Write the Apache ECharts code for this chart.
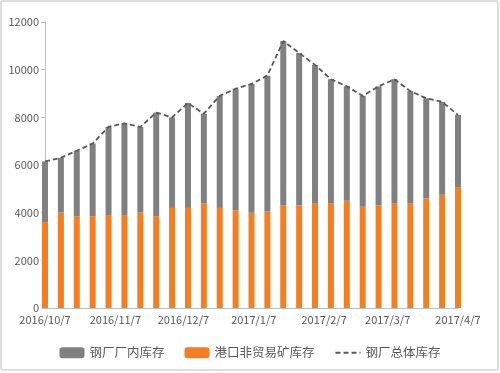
<!DOCTYPE html>
<html>
<head>
<meta charset="utf-8">
<script src="https://cdn.jsdelivr.net/npm/echarts@6/dist/echarts.min.js"></script>
<style>
html,body{margin:0;padding:0;background:#fff;}
#c{width:500px;height:373px;}
</style>
</head>
<body>
<div id="c"></div>
<script>
// Weekly dates
var dates = ['2016-10-07','2016-10-14','2016-10-21','2016-10-28','2016-11-04','2016-11-11','2016-11-18','2016-11-25','2016-12-02','2016-12-09','2016-12-16','2016-12-23','2016-12-30','2017-01-06','2017-01-13','2017-01-20','2017-01-27','2017-02-03','2017-02-10','2017-02-17','2017-02-24','2017-03-03','2017-03-10','2017-03-17','2017-03-24','2017-03-31','2017-04-07'];
// 钢厂厂内库存 (gray segment)
var millStock = [2550,2300,2750,3050,3700,3850,3600,4350,3800,4400,3750,4700,5100,5400,5700,6900,6400,5800,5200,4800,4650,5000,5200,4700,4200,3900,3050];
// 港口非贸易矿库存 (orange segment)
var portStock = [3600,4000,3850,3850,3900,3900,4000,3850,4200,4200,4400,4200,4100,4000,4050,4300,4300,4400,4400,4500,4250,4300,4400,4400,4600,4750,5050];
// 钢厂总体库存 (dashed line)
var totalStock = [6150,6300,6600,6900,7600,7750,7600,8200,8000,8600,8150,8900,9200,9400,9750,11200,10700,10200,9600,9300,8900,9300,9600,9100,8800,8650,8100];
// x tick labels
var xTickDates = ['2016-10-07','2016-11-07','2016-12-07','2017-01-07','2017-02-07','2017-03-07','2017-04-07'];
var seriesNames = ['钢厂厂内库存','港口非贸易矿库存','钢厂总体库存'];

function ts(s){var p=s.split('-');return Date.UTC(+p[0],+p[1]-1,+p[2]);}
var DAY = 86400000;
var t0 = ts(dates[0]);
function dayOf(s){return Math.round((ts(s)-t0)/DAY);}
var tickDays = xTickDates.map(dayOf);
var lastDay = dayOf(dates[dates.length-1]);
function labelOf(day){
  var d=new Date(t0+day*DAY);
  return d.getUTCFullYear()+'/'+(d.getUTCMonth()+1)+'/'+d.getUTCDate();
}

var chart = echarts.init(document.getElementById('c'), null, {renderer:'canvas'});
var font = '"Noto Sans CJK SC","Microsoft YaHei",sans-serif';
chart.setOption({
  animation:false,
  textStyle:{fontFamily:font},
  graphic:[{type:'rect',shape:{x:1,y:1,width:497,height:369,r:2},style:{fill:'none',stroke:'#d4d4d4',lineWidth:1.5},silent:true,z:-10}],
  grid:{left:45,right:42,top:22,bottom:65},
  legend:{
    bottom:9,left:'center',itemWidth:25,itemHeight:11,itemGap:20,
    data:[{name:seriesNames[0]},{name:seriesNames[1]},{name:seriesNames[2],itemStyle:{opacity:0}}],
    textStyle:{color:'#595959',fontSize:12.5,fontFamily:font}
  },
  xAxis:[{
    type:'category',
    data:dates,
    boundaryGap:false,
    axisLine:{show:true,lineStyle:{color:'#bfbfbf',width:1}},
    axisTick:{show:false},
    axisLabel:{show:false},
    splitLine:{show:false}
  },{
    type:'value',position:'bottom',
    min:0, max:lastDay,
    axisLine:{show:false},
    axisTick:{show:false},
    splitLine:{show:false},
    axisLabel:{
      customValues:tickDays,
      hideOverlap:false,
      showMinLabel:true,showMaxLabel:true,
      color:'#595959',fontSize:11,margin:6,
      formatter:function(v){return labelOf(v);}
    }
  }],
  yAxis:{
    type:'value',min:0,max:12000,interval:2000,
    axisLine:{show:true,lineStyle:{color:'#bfbfbf',width:1}},
    axisTick:{show:true,length:4,lineStyle:{color:'#bfbfbf'}},
    splitLine:{show:false},
    axisLabel:{color:'#595959',fontSize:11,margin:6,formatter:function(v){return String(v);}}
  },
  series:[
    {name:seriesNames[1],type:'bar',stack:'s',barWidth:6,clip:false,data:portStock,itemStyle:{color:'#f47e20'}},
    {name:seriesNames[0],type:'bar',stack:'s',barWidth:6,clip:false,data:millStock,itemStyle:{color:'#808080'}},
    {name:seriesNames[2],type:'line',symbol:'none',data:totalStock,z:5,
     lineStyle:{color:'#595959',width:1.8,type:[5,3]},itemStyle:{color:'#595959'}}
  ]
});
</script>
</body>
</html>
